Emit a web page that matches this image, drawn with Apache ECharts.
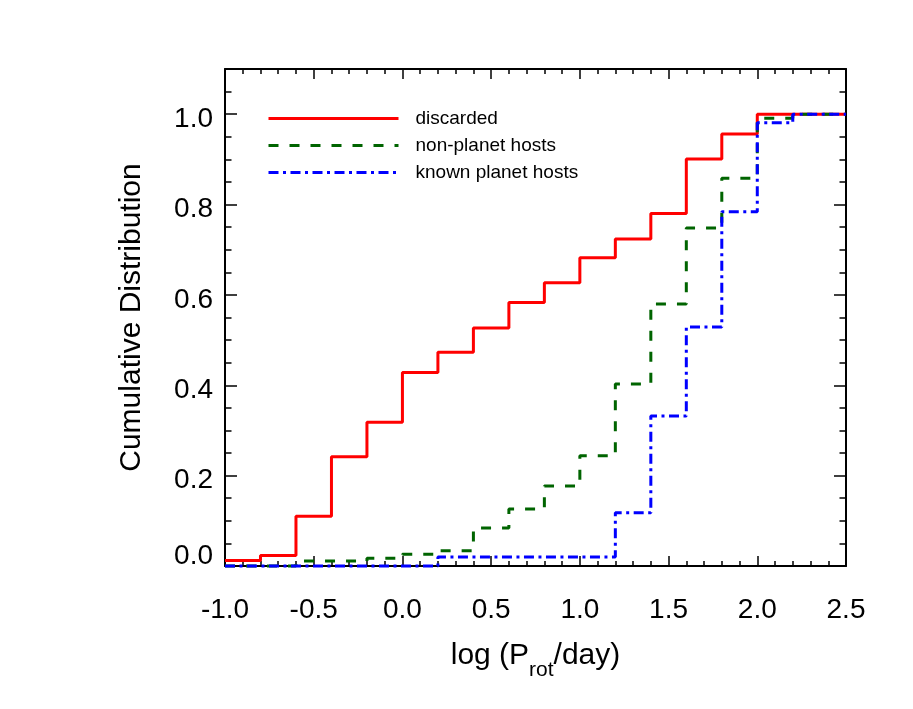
<!DOCTYPE html>
<html><head><meta charset="utf-8">
<script src="https://cdn.jsdelivr.net/npm/echarts@6/dist/echarts.min.js"></script>
<style>html,body{margin:0;padding:0;background:#fff}#c{width:913px;height:709px}</style>
</head><body><div id="c"></div>
<script>
// bin start positions in log(P_rot/day); last entry closes the final step
const binStarts   = [-1.0, -0.8, -0.6, -0.4, -0.2, 0.0, 0.2, 0.4, 0.6, 0.8, 1.0, 1.2, 1.4, 1.6, 1.8, 2.0, 2.2, 2.4, 2.5];
const discarded   = [0.012, 0.023, 0.110, 0.242, 0.318, 0.428, 0.473, 0.527, 0.583, 0.627, 0.682, 0.724, 0.780, 0.901, 0.956, 1.0, 1.0, 1.0, 1.0];
const nonPlanet   = [0.0, 0.0, 0.011, 0.011, 0.017, 0.026, 0.034, 0.084, 0.126, 0.177, 0.244, 0.403, 0.580, 0.748, 0.858, 0.991, 1.0, 1.0, 1.0];
const knownPlanet = [0.0, 0.0, 0.0, 0.0, 0.0, 0.0, 0.020, 0.020, 0.020, 0.020, 0.020, 0.118, 0.332, 0.529, 0.784, 0.981, 1.0, 1.0, 1.0];
const seriesNames = ['discarded', 'non-planet hosts', 'known planet hosts'];
const xRange = [-1.0, 2.5];
const yRange = [0.0, 1.1];

const FONT = 'Liberation Sans, Arial, sans-serif';
const pair = (xs, ys) => xs.map((x, i) => [x, ys[i]]);
const axisLine = {show: true, onZero: false, lineStyle: {color: '#000', width: 2}};

function xAx(pos, labels) {
  return {
    type: 'value', position: pos, min: xRange[0], max: xRange[1], interval: 0.5,
    axisLine: axisLine,
    axisTick: {show: true, inside: true, length: 10, lineStyle: {color: '#000', width: 1.5}},
    minorTick: {show: true, splitNumber: 5, length: 5, lineStyle: {color: '#000', width: 1.5}},
    splitLine: {show: false}, minorSplitLine: {show: false},
    axisLabel: labels ? {show: true, fontSize: 28, fontFamily: FONT, color: '#000', margin: 30,
      formatter: v => v.toFixed(1)} : {show: false},
    name: labels ? '{a|log (P}{s|rot}{a|/day)}' : '',
    nameLocation: 'middle', nameGap: 65,
    nameTextStyle: {rich: {
      a: {fontSize: 30, fontFamily: FONT, color: '#000', lineHeight: 50, verticalAlign: 'middle'},
      s: {fontSize: 21, fontFamily: FONT, color: '#000', lineHeight: 21, verticalAlign: 'bottom'}
    }}
  };
}
function yAx(pos, major, labels) {
  return {
    type: 'value', position: pos, min: yRange[0], max: yRange[1], interval: major ? 0.2 : 0.05,
    axisLine: major ? axisLine : {show: false, onZero: false},
    axisTick: {show: true, inside: true, length: major ? 12 : 6.5, lineStyle: {color: '#000', width: 1.5}},
    splitLine: {show: false},
    axisLabel: labels ? {show: true, fontSize: 28, fontFamily: FONT, color: '#000', margin: 12, showMaxLabel: false,
      formatter: v => (Math.abs(v) < 1e-9 ? '{z|0.0}' : '{n|' + v.toFixed(1) + '}'),
      rich: {
        n: {fontSize: 28, fontFamily: FONT, color: '#000', padding: [10, 0, 0, 0]},
        z: {fontSize: 28, fontFamily: FONT, color: '#000', padding: [0, 0, 19, 0]}
      }} : {show: false},
    name: labels ? 'Cumulative Distribution' : '',
    nameLocation: 'middle', nameGap: 78,
    nameTextStyle: {fontSize: 30, fontFamily: FONT, color: '#000'}
  };
}

const chart = echarts.init(document.getElementById('c'), null, {renderer: 'canvas'});
chart.setOption({
  animation: false,
  backgroundColor: '#fff',
  grid: {left: 225, right: 67, top: 69, bottom: 143, containLabel: false},
  xAxis: [xAx('bottom', true), xAx('top', false)],
  yAxis: [yAx('left', true, true), yAx('left', false, false), yAx('right', true, false), yAx('right', false, false)],
  legend: {
    orient: 'vertical', left: 262, top: 104, itemWidth: 130, itemHeight: 14, itemGap: 8,
    itemStyle: {opacity: 0},
    lineStyle: {width: 3},
    textStyle: {fontSize: 19, fontFamily: FONT, color: '#000', padding: [0, 0, 0, 12]},
    data: seriesNames
  },
  series: [
    {name: seriesNames[0], type: 'line', step: 'end', symbol: 'none', clip: false,
     data: pair(binStarts, discarded), color: '#ff0000',
     lineStyle: {color: '#ff0000', width: 3}},
    {name: seriesNames[1], type: 'line', step: 'end', symbol: 'none', clip: false,
     data: pair(binStarts, nonPlanet), color: '#006400',
     lineStyle: {color: '#006400', width: 3, type: [10, 11], cap: 'butt'}},
    {name: seriesNames[2], type: 'line', step: 'end', symbol: 'none', clip: false,
     data: pair(binStarts, knownPlanet), color: '#0000ff',
     lineStyle: {color: '#0000ff', width: 3, type: [10, 4.5, 3, 4.5], cap: 'butt'}}
  ]
});
</script></body></html>
